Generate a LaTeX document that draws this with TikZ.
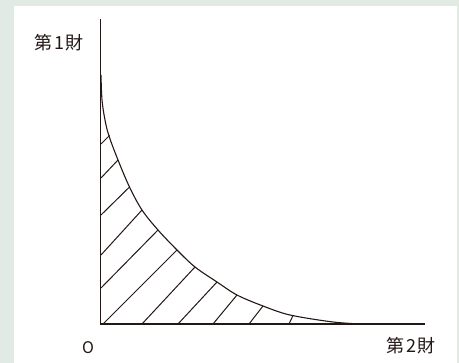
\documentclass[tikz,border=0pt]{standalone}
\usepackage{fontspec}
\newfontfamily\jp{Noto Sans CJK JP}
\definecolor{frame}{HTML}{E1EAE3}
\definecolor{ink}{HTML}{231815}
\begin{document}
\begin{tikzpicture}[x=1pt,y=-1pt,
  axis/.style={draw=ink,line width=1.3pt},
  curve/.style={draw=ink,line width=1.1pt},
  hatch/.style={draw=ink,line width=1pt},
  lbl/.style={font=\jp\fontsize{18}{18}\selectfont,text=ink,inner sep=0pt}]
\fill[frame] (0,0) rectangle (459,363);
\fill[white] (14,6) rectangle (457,363);
\useasboundingbox (0,0) rectangle (459,363);
% axes
\coordinate (O) at (100.5,324);
\coordinate (ytop) at (100.5,19);
\coordinate (xend) at (425,324);
\draw[axis] (ytop) -- (O) -- (xend);
% curve
\draw[curve] plot[smooth,tension=0.55] coordinates {(101,75) (102,100) (105,120) (109,136) (118,160) (129.5,187) (142,210) (158,230) (177,250) (195,267) (217,282) (237,295) (263,306) (290,315) (333,322) (362,324)};
% hatching
\draw[hatch] (101,144) -- (109.5,135.5);
\draw[hatch] (101,178) -- (118,160);
\draw[hatch] (101,215) -- (129.5,187);
\draw[hatch] (101,255) -- (142,210);
\draw[hatch] (101,288) -- (158,230);
\draw[hatch] (103,324) -- (177,250);
\draw[hatch] (142,324) -- (195,267);
\draw[hatch] (178,324) -- (217,282);
\draw[hatch] (213,324) -- (237,295);
\draw[hatch] (249,324) -- (263,306);
\draw[hatch] (289,324) -- (293,315.5);
% labels
\node[lbl] (g1) at (59,43) {第\kern2pt1\kern2pt財};
\node[lbl] (g2) at (411,346) {第\kern2pt2\kern2pt財};
\node[lbl,font=\jp\fontsize{16}{16}\selectfont] (o) at (88,348) {O};
\end{tikzpicture}
\end{document}
